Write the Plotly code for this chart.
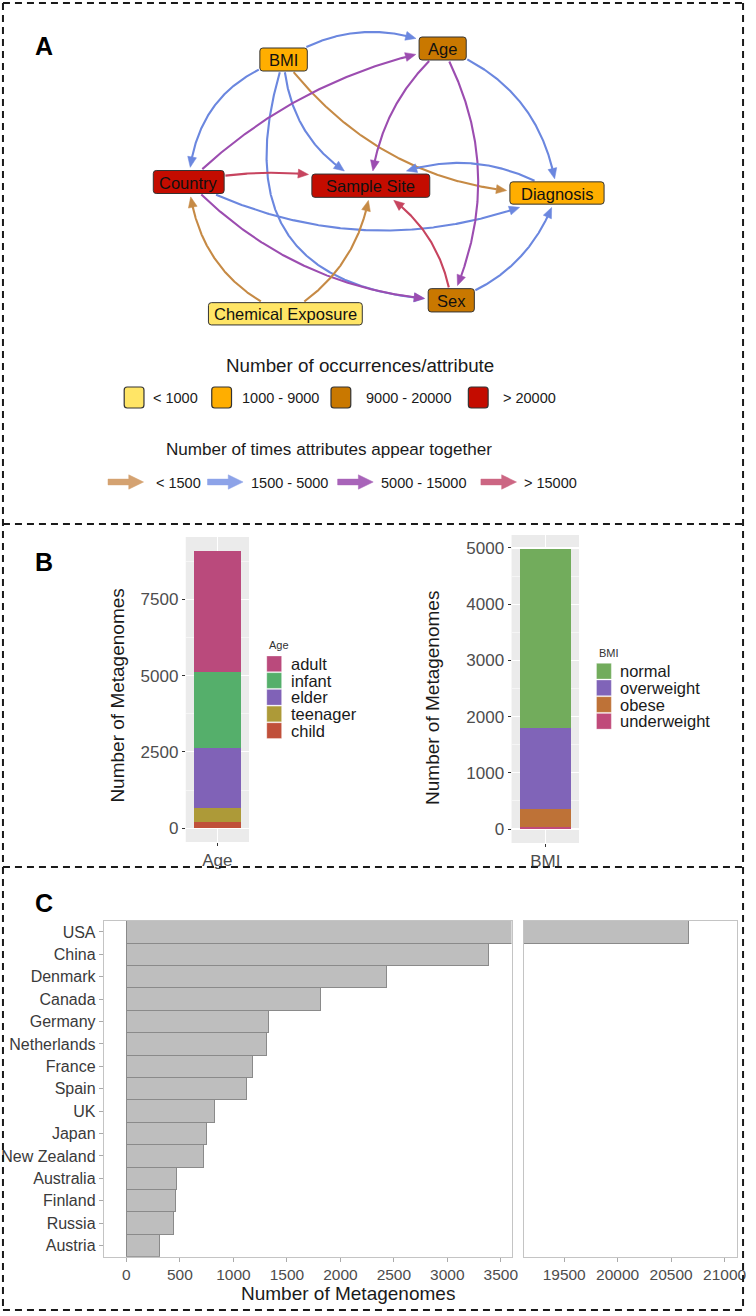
import numpy as np
import plotly.graph_objects as go

W, H = 756, 1316
FONT = "Liberation Sans, Arial, sans-serif"

# ------------------------------------------------------------------ data
node_names = ["BMI", "Age", "Country", "Sample Site", "Diagnosis", "Sex", "Chemical Exposure"]
node_class = ["1000 - 9000", "9000 - 20000", "> 20000", "> 20000", "1000 - 9000", "9000 - 20000", "< 1000"]
occ_classes = ["< 1000", "1000 - 9000", "9000 - 20000", "> 20000"]

edge_source = ["BMI", "BMI", "BMI", "BMI", "BMI", "Country", "Country", "Country", "Country",
               "Age", "Age", "Age", "Diagnosis", "Sex", "Sex", "Chemical Exposure", "Chemical Exposure"]
edge_target = ["Age", "Country", "Sample Site", "Sex", "Diagnosis", "Age", "Sample Site", "Diagnosis", "Sex",
               "Sample Site", "Sex", "Diagnosis", "Sample Site", "Sample Site", "Diagnosis", "Country", "Sample Site"]
edge_class = ["1500 - 5000", "1500 - 5000", "1500 - 5000", "1500 - 5000", "< 1500", "5000 - 15000", "> 15000",
              "1500 - 5000", "5000 - 15000", "5000 - 15000", "5000 - 15000", "1500 - 5000", "1500 - 5000",
              "> 15000", "1500 - 5000", "< 1500", "< 1500"]
cooc_classes = ["< 1500", "1500 - 5000", "5000 - 15000", "> 15000"]

age_groups = ["adult", "infant", "elder", "teenager", "child"]
age_counts = [3958, 2506, 1969, 469, 187]
bmi_groups = ["normal", "overweight", "obese", "underweight"]
bmi_counts = [3193, 1432, 327, 30]

countries = ["USA", "China", "Denmark", "Canada", "Germany", "Netherlands", "France", "Spain",
             "UK", "Japan", "New Zealand", "Australia", "Finland", "Russia", "Austria"]
country_counts = [20663, 3389, 2428, 1816, 1327, 1308, 1179, 1120, 819, 751, 717, 468, 462, 437, 311]

c_ticks_left = [0, 500, 1000, 1500, 2000, 2500, 3000, 3500]
c_ticks_right = [19500, 20000, 20500, 21000]

# ------------------------------------------------------------------ layout / style
node_xy = {"BMI": (287, 59.5), "Age": (448, 48.5), "Country": (191, 182), "Sample Site": (375.3, 185.7),
           "Diagnosis": (563.7, 193), "Sex": (456.7, 300.3), "Chemical Exposure": (288.8, 313.8)}
node_size = {"BMI": (48, 23), "Age": (47.7, 23), "Country": (71.7, 23), "Sample Site": (119.3, 23.3),
             "Diagnosis": (95.3, 22.3), "Sex": (46.7, 23.3), "Chemical Exposure": (155.7, 22.3)}
edge_bend = [-0.27, 0.34, 0.30, 0.66, 0.25, -0.15, -0.12, 0.23, 0.20, 0.20, -0.25, -0.30, 0.28, 0.25, 0.25, -0.30, 0.25]

occ_colors = {"< 1000": "#FFE566", "1000 - 9000": "#FFAE00", "9000 - 20000": "#C97800", "> 20000": "#C40C00"}
edge_colors = {"< 1500": "#C68A45", "1500 - 5000": "#6B87DF", "5000 - 15000": "#9C4DB0", "> 15000": "#C7445F"}
legend_arrow_colors = {"< 1500": "#D4A271", "1500 - 5000": "#8DA3E8", "5000 - 15000": "#A864B9", "> 15000": "#CC6683"}

age_colors = {"adult": "#BA4A7C", "infant": "#55AF6B", "elder": "#8062B7", "teenager": "#AD9A38", "child": "#C0503A"}
bmi_colors = {"normal": "#72AC5C", "overweight": "#8064B8", "obese": "#BE7237", "underweight": "#C04A7A"}


def dom_x(a, b):
    return [a / W, b / W]


def dom_y(top, bottom):
    return [1 - bottom / H, 1 - top / H]


fig = go.Figure()
shapes = []
annotations = []

# ------------------------------------------------------------------ panel A: network
def bezier(p0, p1, k, n=400):
    p0 = np.array(p0, float)
    p1 = np.array(p1, float)
    d = p1 - p0
    L = np.hypot(*d)
    nrm = np.array([-d[1], d[0]]) / L
    c = (p0 + p1) / 2 + k * L * nrm
    t = np.linspace(0, 1, n)[:, None]
    return (1 - t) ** 2 * p0 + 2 * t * (1 - t) * c + t ** 2 * p1


def inside(pts, node, pad):
    cx, cy = node_xy[node]
    w, h = node_size[node]
    return (np.abs(pts[:, 0] - cx) <= w / 2 + pad) & (np.abs(pts[:, 1] - cy) <= h / 2 + pad)


ALEN, AHW = 10.5, 4.5
for s, t, cl, k in zip(edge_source, edge_target, edge_class, edge_bend):
    pts = bezier(node_xy[s], node_xy[t], k)
    out_s = np.where(~inside(pts, s, 1))[0]
    out_t = np.where(~inside(pts, t, 3))[0]
    pts = pts[out_s[0]:out_t[-1] + 1]
    tip = pts[-1]
    seg = np.hypot(*(np.diff(pts, axis=0).T))
    back = np.cumsum(seg[::-1])
    j = len(pts) - 1 - (np.searchsorted(back, ALEN) + 1)
    u = tip - pts[j]
    u = u / np.hypot(*u)
    base = tip - ALEN * u
    v = np.array([-u[1], u[0]])
    line_pts = np.vstack([pts[:j + 1], base + 0.3 * u])
    col = edge_colors[cl]
    fig.add_trace(go.Scatter(x=line_pts[:, 0], y=line_pts[:, 1], mode="lines",
                             line=dict(color=col, width=2.1), hoverinfo="skip", showlegend=False,
                             xaxis="x5", yaxis="y5"))
    tri = np.array([tip, base + AHW * v, base - AHW * v, tip])
    fig.add_trace(go.Scatter(x=tri[:, 0], y=tri[:, 1], mode="lines", fill="toself", fillcolor=col,
                             line=dict(color=col, width=0.5), hoverinfo="skip", showlegend=False,
                             xaxis="x5", yaxis="y5"))


def rrect(x0, y0, x1, y1, r):
    return (f"M{x0 + r},{y0} L{x1 - r},{y0} Q{x1},{y0} {x1},{y0 + r} L{x1},{y1 - r} Q{x1},{y1} {x1 - r},{y1} "
            f"L{x0 + r},{y1} Q{x0},{y1} {x0},{y1 - r} L{x0},{y0 + r} Q{x0},{y0} {x0 + r},{y0} Z")


for name, cl in zip(node_names, node_class):
    cx, cy = node_xy[name]
    w, h = node_size[name]
    shapes.append(dict(type="path", path=rrect(cx - w / 2, cy - h / 2, cx + w / 2, cy + h / 2, 3),
                       xref="x5", yref="y5", fillcolor=occ_colors[cl], line=dict(color="#333333", width=1),
                       layer="above"))
    annotations.append(dict(x=cx, y=cy + 0.5, xref="x5", yref="y5", text=name, showarrow=False,
                            font=dict(family=FONT, size=16.5, color="#111111")))

# legend: node colours
annotations.append(dict(x=364, y=365, xref="x5", yref="y5", text="Number of occurrences/attribute",
                        showarrow=False, font=dict(family=FONT, size=18.8, color="#1A1A1A")))
box_x = [125.7, 214.3, 335, 474]
lab_x = [153.3, 242.7, 368, 506.7]
for cl, bx, lx in zip(occ_classes, box_x, lab_x):
    shapes.append(dict(type="path", path=rrect(bx, 387, bx + 20, 408, 3), xref="x5", yref="y5",
                       fillcolor=occ_colors[cl], line=dict(color="#333333", width=1.2)))
    annotations.append(dict(x=lx, y=398, xref="x5", yref="y5", text=cl, showarrow=False, xanchor="left",
                            font=dict(family=FONT, size=14.5, color="#1A1A1A")))

# legend: edge colours
annotations.append(dict(x=333, y=449, xref="x5", yref="y5", text="Number of times attributes appear together",
                        showarrow=False, font=dict(family=FONT, size=17.1, color="#1A1A1A")))
arr_x = [109.3, 210, 341.7, 486.7]
arr_lab_x = [156, 251.7, 383.3, 528.3]
for cl, ax0, lx in zip(cooc_classes, arr_x, arr_lab_x):
    yc = 482
    xs = [ax0, ax0 + 21, ax0 + 21, ax0 + 36, ax0 + 21, ax0 + 21, ax0, ax0]
    ys = [yc - 2.9, yc - 2.9, yc - 7.2, yc, yc + 7.2, yc + 2.9, yc + 2.9, yc - 2.9]
    col = legend_arrow_colors[cl]
    fig.add_trace(go.Scatter(x=xs, y=ys, mode="lines", fill="toself", fillcolor=col,
                             line=dict(color=col, width=0.5), hoverinfo="skip", showlegend=False,
                             xaxis="x5", yaxis="y5"))
    annotations.append(dict(x=lx, y=483, xref="x5", yref="y5", text=cl, showarrow=False, xanchor="left",
                            font=dict(family=FONT, size=14.5, color="#1A1A1A")))

# ------------------------------------------------------------------ panel B: stacked bars
for g, v in zip(age_groups[::-1], age_counts[::-1]):
    fig.add_trace(go.Bar(x=["Age"], y=[v], name=g, width=0.9, marker=dict(color=age_colors[g], line=dict(width=0)),
                         showlegend=False, xaxis="x", yaxis="y", hoverinfo="skip"))
for g, v in zip(bmi_groups[::-1], bmi_counts[::-1]):
    fig.add_trace(go.Bar(x=["BMI"], y=[v], name=g, width=0.9, marker=dict(color=bmi_colors[g], line=dict(width=0)),
                         showlegend=False, xaxis="x2", yaxis="y2", hoverinfo="skip"))

for xr, yr in (("x domain", "y domain"), ("x2 domain", "y2 domain")):
    shapes.append(dict(type="rect", xref=xr, yref=yr, x0=0, x1=1, y0=0, y1=1, fillcolor="#EBEBEB",
                       line=dict(width=0), layer="below"))

# B legends (drawn manually)
def b_legend(title, groups, colors, x0, title_y, top):
    annotations.append(dict(x=x0, y=title_y, xref="x5", yref="y5", text=title, showarrow=False, xanchor="left",
                            font=dict(family=FONT, size=11, color="#333333")))
    for i, g in enumerate(groups):
        y0 = top + i * 16.7
        shapes.append(dict(type="rect", xref="x5", yref="y5", x0=x0, x1=x0 + 15, y0=y0, y1=y0 + 15.7,
                           fillcolor=colors[g], line=dict(color="rgba(255,255,255,0.6)", width=0.5)))
        annotations.append(dict(x=x0 + 22, y=y0 + 8, xref="x5", yref="y5", text=g, showarrow=False,
                                xanchor="left", font=dict(family=FONT, size=16.5, color="#1A1A1A")))


b_legend("Age", age_groups, age_colors, 270, 645, 656)
b_legend("BMI", bmi_groups, bmi_colors, 603.7, 653.3, 663.3)

for x, y in ((118, 696), (437.7, 697.5)):
    annotations.append(dict(x=x, y=y, xref="x5", yref="y5", text="Number of Metagenomes", textangle=-90,
                            showarrow=False, font=dict(family=FONT, size=19, color="#1A1A1A")))

# ------------------------------------------------------------------ panel C: horizontal bars (broken axis)
for xa, ya in (("x3", "y3"), ("x4", "y4")):
    fig.add_trace(go.Bar(y=countries, x=country_counts, orientation="h", width=1.0,
                         marker=dict(color="#BEBEBE", line=dict(color="#8A8A8A", width=1)),
                         showlegend=False, xaxis=xa, yaxis=ya, hoverinfo="skip"))

annotations.append(dict(x=352.5, y=1293, xref="x5", yref="y5", text="Number of Metagenomes", showarrow=False,
                        font=dict(family=FONT, size=19, color="#1A1A1A")))

# ------------------------------------------------------------------ frames & panel letters
BL, BR = 3, 752
for yy in (3, 524, 867, 1310):
    shapes.append(dict(type="line", xref="x5", yref="y5", x0=BL, x1=BR, y0=yy, y1=yy,
                       line=dict(color="#1A1A1A", width=2, dash="7px,5px")))
for xx in (BL, BR):
    shapes.append(dict(type="line", xref="x5", yref="y5", x0=xx, x1=xx, y0=3, y1=1310,
                       line=dict(color="#1A1A1A", width=2, dash="7px,5px")))
for letter, y in (("A", 46), ("B", 562), ("C", 903)):
    annotations.append(dict(x=45, y=y, xref="x5", yref="y5", text=f"<b>{letter}</b>", showarrow=False,
                            font=dict(family=FONT, size=25, color="#000000")))

# ------------------------------------------------------------------ axes
tick_b = dict(ticks="outside", ticklen=3, tickwidth=1, tickcolor="#333333",
              tickfont=dict(family=FONT, size=17, color="#4D4D4D"))
grid_b = dict(showgrid=True, gridcolor="white", gridwidth=1.1, zeroline=False, showline=False, fixedrange=True)
tick_c = dict(ticklen=4, tickwidth=1, tickcolor="#AAAAAA",
              showline=True, mirror=True, linecolor="#C4C4C4", linewidth=1, showgrid=False, zeroline=False,
              fixedrange=True)

fig.update_layout(
    width=W, height=H, margin=dict(l=0, r=0, t=0, b=0),
    paper_bgcolor="white", plot_bgcolor="rgba(0,0,0,0)",
    barmode="stack", bargap=0, showlegend=False,
    font=dict(family=FONT),
    xaxis=dict(domain=dom_x(188, 252), anchor="y", range=[-0.6, 0.6], **tick_b, **grid_b),
    yaxis=dict(domain=dom_y(537, 842), anchor="x", range=[-454, 9543], tickvals=[0, 2500, 5000, 7500],
               minor=dict(tickvals=[1250, 3750, 6250, 8750], showgrid=True, gridcolor="white", gridwidth=0.5),
               **tick_b, **grid_b),
    xaxis2=dict(domain=dom_x(517.7, 586), anchor="y2", range=[-0.6, 0.6], **tick_b, **grid_b),
    yaxis2=dict(domain=dom_y(535, 843), anchor="x2", range=[-249, 5231], tickvals=[0, 1000, 2000, 3000, 4000, 5000],
                minor=dict(tickvals=[500, 1500, 2500, 3500, 4500], showgrid=True, gridcolor="white", gridwidth=0.5),
                **tick_b, **grid_b),
    xaxis3=dict(domain=dom_x(105, 517.7), anchor="y3", range=[-212, 3600], ticks="outside",
                tickvals=c_ticks_left, ticktext=[str(v) for v in c_ticks_left],
                tickfont=dict(family=FONT, size=15.5, color="#4D4D4D"), **tick_c),
    yaxis3=dict(domain=dom_y(920.7, 1256.7), anchor="x3", categoryorder="array", categoryarray=countries[::-1],
                range=[-0.5, 14.5], ticks="outside",
                tickfont=dict(family=FONT, size=16, color="#3A3A3A"), **tick_c),
    xaxis4=dict(domain=dom_x(530.3, 746.3), anchor="y4", range=[19124, 21120], ticks="outside",
                tickvals=c_ticks_right, ticktext=[str(v) for v in c_ticks_right],
                tickfont=dict(family=FONT, size=15.5, color="#4D4D4D"), **tick_c),
    yaxis4=dict(domain=dom_y(920.7, 1256.7), anchor="x4", categoryorder="array", categoryarray=countries[::-1],
                range=[-0.5, 14.5], showticklabels=False, ticks="", **tick_c),
    xaxis5=dict(domain=[0, 1], anchor="y5", range=[0, W], visible=False, fixedrange=True),
    yaxis5=dict(domain=[0, 1], anchor="x5", range=[H, 0], visible=False, fixedrange=True),
    shapes=shapes,
    annotations=annotations,
)

fig.write_html("out.html", config={"displayModeBar": False, "staticPlot": True},
               post_script="document.body.style.margin='0';document.body.style.overflow='hidden';")
